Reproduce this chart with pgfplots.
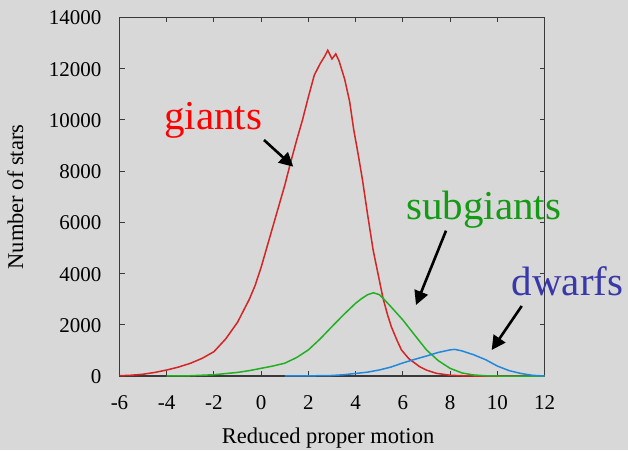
\documentclass[border=0pt]{standalone}
\usepackage{pgfplots}
\pgfplotsset{compat=1.18}
\usepackage{fontspec}
\setmainfont{Liberation Serif}
\usetikzlibrary{arrows.meta}
\definecolor{bg}{HTML}{D8D8D8}
\definecolor{axisgray}{HTML}{3A3A3A}
\definecolor{cred}{HTML}{D42424}
\definecolor{cgreen}{HTML}{22B022}
\definecolor{cblue}{HTML}{2288DD}
\definecolor{tred}{HTML}{FF0000}
\definecolor{tgreen}{HTML}{149A14}
\definecolor{tblue}{HTML}{3838AA}
\begin{document}
\begin{tikzpicture}[x=1pt,y=1pt]
\path[use as bounding box] (0,0) rectangle (628,450);
\fill[bg] (0,0) rectangle (628,450);
\begin{axis}[
  at={(119.5pt,74pt)}, anchor=south west,
  scale only axis, width=425pt, height=358.5pt,
  xmin=-6, xmax=12, ymin=0, ymax=14000,
  xtick={-6,-4,...,12}, ytick={0,2000,...,14000},
  scaled y ticks=false,
  /pgf/number format/1000 sep={},
  /pgf/number format/assume math mode=true,
  tick align=inside, major tick length=5pt,
  tick style={draw=axisgray, line width=0.9pt},
  axis line style={draw=axisgray, line width=1.3pt},
  ticklabel style={font=\fontsize{21}{24}\selectfont, inner sep=0pt},
  xticklabel style={anchor=base, yshift=-33pt},
  yticklabel style={anchor=base east, xshift=-18pt, yshift=-7.5pt},
  axis background/.style={fill=bg},
  clip=false,
]
\addplot[cred, line width=1.5pt] table {
x y
-6 10
-5.5 30
-5 70
-4.5 140
-4 235
-3.5 350
-3 495
-2.5 690
-2 950
-1.5 1450
-1 2100
-0.75 2550
-0.5 3000
-0.25 3550
0 4250
0.25 5050
0.5 5850
0.75 6650
1.0 7450
1.25 8350
1.5 9200
1.75 10000
2.0 10900
2.25 11750
2.5 12200
2.7 12500
2.82 12720
3.0 12380
3.16 12580
3.3 12300
3.54 11580
3.75 10700
3.92 9620
4.1 8700
4.29 7665
4.5 6350
4.74 4930
5.0 3760
5.16 3040
5.35 2400
5.51 1930
5.75 1400
5.94 1020
6.25 680
6.71 365
7.0 230
7.42 105
8.0 30
8.5 10
9 0
12 0
};
\addplot[cgreen, line width=1.5pt] table {
x y
-4 0
-3 10
-2 50
-1 140
-0.5 210
0 300
0.5 390
1.0 500
1.5 720
2.0 1020
2.5 1450
3.0 1930
3.5 2400
4.0 2840
4.25 3020
4.5 3170
4.75 3250
5.0 3180
5.16 3040
5.5 2700
6.0 2190
6.5 1600
7.0 1020
7.5 600
8.0 300
8.5 120
9.0 40
9.5 10
10 0
12 0
};
\addplot[cblue, line width=1.5pt] table {
x y
1 0
2 5
3 20
3.5 50
4 100
4.5 150
5 235
5.5 350
6 510
6.5 650
7 780
7.5 920
8.0 1020
8.2 1040
8.5 980
9.0 830
9.5 640
10 390
10.5 210
11 100
11.5 25
12 0
};
\end{axis}
\node[anchor=base, inner sep=0pt, font=\fontsize{22.5}{26}\selectfont] at (328,7) {Reduced proper motion};
\node[rotate=90, anchor=base, inner sep=0pt, font=\fontsize{22.5}{26}\selectfont] at (23,253) {Number of stars};
\node[anchor=base west, inner sep=0pt, text=tred, font=\fontsize{41}{45}\selectfont] at (164,320.5) {giants};
\node[anchor=base west, inner sep=0pt, text=tgreen, font=\fontsize{41}{45}\selectfont] at (406,230) {subgiants};
\node[anchor=base west, inner sep=0pt, text=tblue, font=\fontsize{41}{45}\selectfont] at (511.5,154.5) {dwarfs};
\draw[line width=2.6pt, -{Triangle[length=14pt,width=14pt]}] (264,310) -- (293.3,283.3);
\draw[line width=2.6pt, -{Triangle[length=14pt,width=14pt]}] (446,219.3) -- (416,145);
\draw[line width=2.6pt, -{Triangle[length=14pt,width=14pt]}] (521.7,144) -- (491.7,100);
\end{tikzpicture}
\end{document}
